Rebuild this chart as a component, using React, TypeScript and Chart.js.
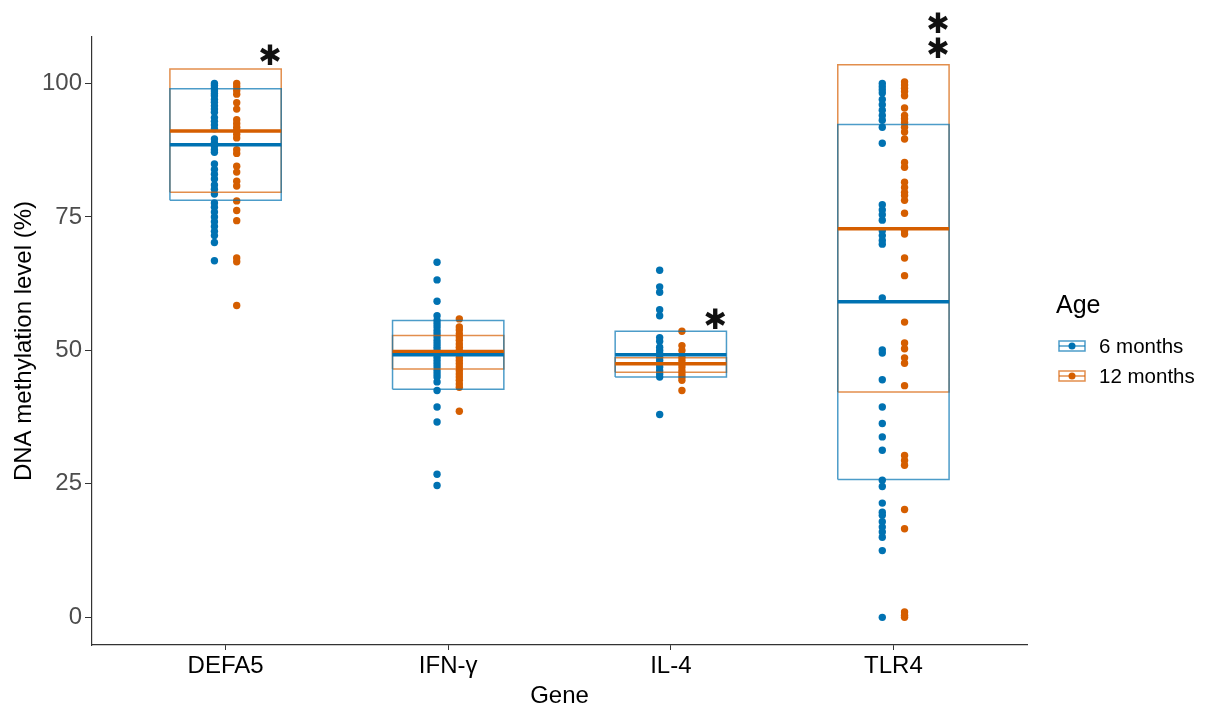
import React, { useEffect, useRef } from 'react';
import { Chart, registerables } from 'chart.js';

Chart.register(...registerables);

const FONT = '"Liberation Sans", Arial, sans-serif';
const STAR_FONT = '"DejaVu Sans", sans-serif';

// ---- data ----
const categories = ['DEFA5', 'IFN-γ', 'IL-4', 'TLR4'];
const yTicks = [0, 25, 50, 75, 100];
const seriesNames = ['6 months', '12 months'];
const seriesColors = ['#0072B2', '#D55E00'];
const seriesBoxColors = ['rgba(0,114,178,0.7)', 'rgba(213,94,0,0.7)'];

const sixMonthPoints = [
  [100.0, 99.6, 99.1, 98.6, 98.1, 97.7, 97.0, 96.5, 95.8, 95.2, 94.6, 93.6, 92.9, 92.2, 91.5,
    89.6, 88.9, 88.3, 87.6, 87.1, 84.9, 83.9, 83.0, 82.1, 81.0, 80.2, 79.3,
    77.6, 76.8, 75.9, 75.0, 74.1, 73.2, 72.3, 71.5, 70.2, 66.8],
  [66.5, 63.2, 59.2, 56.5, 55.6, 55.0, 54.4, 53.7, 53.1, 52.5, 51.8, 51.2, 50.6, 50.0, 49.4,
    48.7, 48.1, 47.5, 46.9, 46.2, 45.6, 45.0, 44.1, 42.5, 39.4, 36.6, 26.8, 24.7],
  [65.0, 61.9, 60.9, 57.6, 56.5, 52.4, 51.7, 50.6, 50.0, 49.4, 48.7, 48.1, 47.5, 46.9, 46.2,
    45.6, 45.0, 38.0],
  [100.0, 99.4, 98.8, 98.2, 97.0, 96.0, 95.0, 94.0, 93.1, 91.8, 88.8, 77.3, 76.3, 75.4, 74.4,
    72.4, 71.5, 70.6, 69.9, 59.8, 50.1, 49.5, 44.5, 39.4, 36.3, 33.8, 31.3, 25.7, 24.5, 21.4,
    19.7, 19.1, 17.9, 16.9, 16.0, 15.0, 12.5, 0.0],
];

const twelveMonthPoints = [
  [100.0, 99.4, 98.7, 98.0, 96.4, 95.2, 93.2, 92.5, 91.8, 91.2, 90.5, 89.8, 87.6, 86.9, 84.5,
    83.4, 81.7, 80.8, 78.0, 76.2, 74.3, 67.3, 66.6, 58.4],
  [55.9, 54.4, 53.8, 53.1, 52.5, 51.9, 51.2, 50.6, 50.0, 49.4, 48.7, 48.1, 47.5, 46.9, 46.2,
    45.6, 45.0, 44.4, 43.7, 43.1, 38.6],
  [53.6, 50.9, 50.0, 48.7, 48.1, 47.5, 46.9, 46.2, 45.6, 45.0, 44.4, 42.5],
  [100.3, 99.7, 99.1, 98.5, 97.7, 95.4, 94.0, 93.4, 92.7, 91.8, 90.9, 89.6, 85.2, 84.3, 81.5,
    80.5, 79.6, 79.0, 78.1, 75.7, 72.4, 71.8, 67.3, 64.0, 55.3, 51.4, 50.3, 48.6, 47.6, 43.4,
    30.3, 29.4, 28.5, 20.2, 16.6, 1.0, 0.4, 0.0],
];

const sixMonthMean = [88.5, 49.2, 49.2, 59.1];
const sixMonthLow = [78.1, 42.7, 45.0, 25.8];
const sixMonthHigh = [99.0, 55.6, 53.6, 92.3];

const twelveMonthMean = [91.1, 49.8, 47.5, 72.8];
const twelveMonthLow = [79.6, 46.5, 45.9, 42.2];
const twelveMonthHigh = [102.7, 52.8, 48.6, 103.5];

const starCategory = [1, 3, 4, 4];
const starValue = [105.5, 55.9, 106.7, 111.4];
const starText = '✱';

// ---- layout / style constants ----
const DODGE = 0.05;
const BOX_HALF = 0.25;
const STAR_OFFSET = 0.2;
const Y_MIN = -5.18;
const Y_MAX = 108.7;

function pointsData(values: number[][], shift: number) {
  const out: { x: number; y: number }[] = [];
  values.forEach((arr, i) => arr.forEach((v) => out.push({ x: i + 1 + shift, y: v })));
  return out;
}

function boxData(low: number[], high: number[]) {
  const out: { x: number; y: number | null }[] = [];
  low.forEach((lo, i) => {
    const c = i + 1;
    const hi = high[i];
    out.push({ x: c - BOX_HALF, y: lo }, { x: c + BOX_HALF, y: lo }, { x: c + BOX_HALF, y: hi },
      { x: c - BOX_HALF, y: hi }, { x: c - BOX_HALF, y: lo }, { x: c, y: null });
  });
  return out;
}

function meanData(mean: number[]) {
  const out: { x: number; y: number | null }[] = [];
  mean.forEach((m, i) => {
    const c = i + 1;
    out.push({ x: c - BOX_HALF, y: m }, { x: c + BOX_HALF, y: m }, { x: c, y: null });
  });
  return out;
}

const overlayPlugin = {
  id: 'overlay',
  afterDraw(chart: any) {
    const { ctx, chartArea, scales } = chart;
    const xs = scales.x;
    const ys = scales.y;
    ctx.save();
    // significance stars
    ctx.fillStyle = '#111';
    ctx.font = `28px ${STAR_FONT}`;
    ctx.textAlign = 'center';
    ctx.textBaseline = 'alphabetic';
    const m = ctx.measureText(starText);
    const centerShift = (m.actualBoundingBoxAscent - m.actualBoundingBoxDescent) / 2;
    starCategory.forEach((c, i) => {
      const px = xs.getPixelForValue(c + STAR_OFFSET);
      const py = ys.getPixelForValue(starValue[i]);
      ctx.fillText(starText, px, py + centerShift);
    });
    // legend
    const lx = chartArea.right + 29;
    ctx.textAlign = 'left';
    ctx.fillStyle = '#000';
    ctx.font = `25px ${FONT}`;
    ctx.fillText('Age', lx, 313);
    seriesNames.forEach((name, i) => {
      const cy = 346 + i * 30;
      const kx = lx + 3;
      const kw = 26;
      ctx.strokeStyle = seriesBoxColors[i];
      ctx.lineWidth = 1.5;
      ctx.strokeRect(kx, cy - 5, kw, 10);
      ctx.beginPath();
      ctx.moveTo(kx, cy);
      ctx.lineTo(kx + kw, cy);
      ctx.stroke();
      ctx.fillStyle = seriesColors[i];
      ctx.beginPath();
      ctx.arc(kx + kw / 2, cy, 3.5, 0, Math.PI * 2);
      ctx.fill();
      ctx.fillStyle = '#000';
      ctx.font = `20.5px ${FONT}`;
      ctx.textBaseline = 'middle';
      ctx.fillText(name, lx + 43, cy + 1);
      ctx.textBaseline = 'alphabetic';
    });
    ctx.restore();
  },
};

export default function App() {
  const ref = useRef<HTMLCanvasElement>(null);
  useEffect(() => {
    if (!ref.current) return;
    const pointSets = [sixMonthPoints, twelveMonthPoints];
    const lows = [sixMonthLow, twelveMonthLow];
    const highs = [sixMonthHigh, twelveMonthHigh];
    const means = [sixMonthMean, twelveMonthMean];
    const datasets: any[] = [];
    seriesNames.forEach((name, s) => {
      datasets.push({
        label: name + ' mean',
        data: meanData(means[s]),
        showLine: true,
        borderColor: seriesColors[s],
        borderWidth: 3.5,
        pointRadius: 0,
        spanGaps: false,
        order: 0,
      });
      datasets.push({
        label: name + ' box',
        data: boxData(lows[s], highs[s]),
        showLine: true,
        borderColor: seriesBoxColors[s],
        borderWidth: 1.5,
        borderJoinStyle: 'miter',
        pointRadius: 0,
        spanGaps: false,
        order: 1,
      });
      datasets.push({
        label: name,
        data: pointsData(pointSets[s], s === 0 ? -DODGE : DODGE),
        showLine: false,
        pointRadius: 3.7,
        pointBackgroundColor: seriesColors[s],
        pointBorderWidth: 0,
        order: 2,
      });
    });

    const chart = new Chart(ref.current, {
      type: 'scatter',
      data: { datasets },
      options: {
        animation: false,
        responsive: false,
        layout: { padding: { top: 37, right: 182, left: 0, bottom: 0 } },
        plugins: { legend: { display: false }, tooltip: { enabled: false } },
        scales: {
          x: {
            type: 'linear',
            min: 0.4,
            max: 4.6,
            afterBuildTicks: (s: any) => {
              s.ticks = categories.map((_, i) => ({ value: i + 1 }));
            },
            afterFit: (s: any) => {
              s.height = 63;
            },
            ticks: {
              callback: (v: any) => categories[Math.round(Number(v)) - 1] ?? '',
              color: '#000',
              font: { family: FONT, size: 24 },
              padding: 2,
              autoSkip: false,
              maxRotation: 0,
            },
            grid: { display: true, drawOnChartArea: false, drawTicks: true, tickLength: 5, color: '#333' },
            border: { display: true, color: '#333', width: 1.2 },
            title: {
              display: true,
              text: 'Gene',
              color: '#000',
              font: { family: FONT, size: 24, lineHeight: 1 },
              padding: { top: 0, bottom: 0 },
            },
          },
          y: {
            type: 'linear',
            min: Y_MIN,
            max: Y_MAX,
            afterBuildTicks: (s: any) => {
              s.ticks = yTicks.map((v) => ({ value: v }));
            },
            afterFit: (s: any) => {
              s.width = 92;
            },
            ticks: {
              color: '#4d4d4d',
              font: { family: FONT, size: 24 },
              padding: 3,
            },
            grid: { display: true, drawOnChartArea: false, drawTicks: true, tickLength: 7, color: '#333' },
            border: { display: true, color: '#333', width: 1.2 },
            title: {
              display: true,
              text: 'DNA methylation level (%)',
              color: '#000',
              font: { family: FONT, size: 24, lineHeight: 1 },
              padding: { top: 12, bottom: 0 },
            },
          },
        },
      },
      plugins: [overlayPlugin],
    } as any);
    return () => chart.destroy();
  }, []);

  return (
    <div style={{ position: 'fixed', left: 0, top: 0, width: 1209, height: 708, background: '#fff' }}>
      <canvas ref={ref} width={1209} height={708} style={{ display: 'block' }} />
    </div>
  );
}
